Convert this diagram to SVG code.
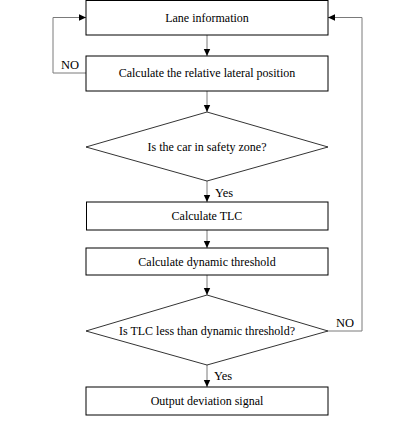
<svg xmlns="http://www.w3.org/2000/svg" width="420" height="424" viewBox="0 0 420 424">
<style>
.box{fill:#fff;stroke:#000;stroke-width:1}
.dia{fill:#fff;stroke:#000;stroke-width:0.8}
.t{font-family:"Liberation Serif","Times New Roman",serif;font-size:12px;fill:#000;text-anchor:middle}
.lb{font-family:"Liberation Serif","Times New Roman",serif;font-size:12.5px;fill:#000}
.c{fill:none;stroke:#7a7a7a;stroke-width:1;marker-end:url(#ah)}
</style>
<defs>
<marker id="ah" markerWidth="8" markerHeight="8" refX="7" refY="4" orient="auto" markerUnits="userSpaceOnUse">
<path d="M0,0.8 L7,4 L0,7.2 Z" fill="#000"/>
</marker>
</defs>
<rect width="420" height="424" fill="#fff"/>
<g id="connectors">
<path class="c" d="M207,35 V56"/>
<path class="c" d="M207,91 V112"/>
<path class="c" d="M207,181 V202"/>
<path class="c" d="M207,230 V248"/>
<path class="c" d="M207,275 V295"/>
<path class="c" d="M207,365 V387"/>
<path class="c" d="M86,73 H53 V17.5 H86"/>
<path class="c" d="M328,331 H362 V17.5 H328"/>
<text class="lb" x="61" y="69">NO</text>
<text class="lb" x="336" y="327">NO</text>
<text class="lb" x="215" y="197">Yes</text>
<text class="lb" x="214" y="380">Yes</text>
</g>
<g id="n1"><rect class="box" x="86" y="0.5" width="242" height="34.5"/><text class="t" x="207" y="22">Lane information</text></g>
<g id="n2"><rect class="box" x="86" y="56" width="242" height="35"/><text class="t" x="207" y="77">Calculate the relative lateral position</text></g>
<g id="n3"><polygon class="dia" points="207,112 328,147 207,181 86,147"/><text class="t" x="207" y="151">Is the car in safety zone?</text></g>
<g id="n4"><rect class="box" x="86.5" y="202" width="241.5" height="28"/><text class="t" x="207" y="220">Calculate TLC</text></g>
<g id="n5"><rect class="box" x="86" y="248" width="242" height="27"/><text class="t" x="207" y="266">Calculate dynamic threshold</text></g>
<g id="n6"><polygon class="dia" points="207,295 328,331 207,365 86,331"/><text class="t" x="207" y="335">Is TLC less than dynamic threshold?</text></g>
<g id="n7"><rect class="box" x="86" y="387" width="242" height="28"/><text class="t" x="207" y="405">Output deviation signal</text></g>
</svg>
